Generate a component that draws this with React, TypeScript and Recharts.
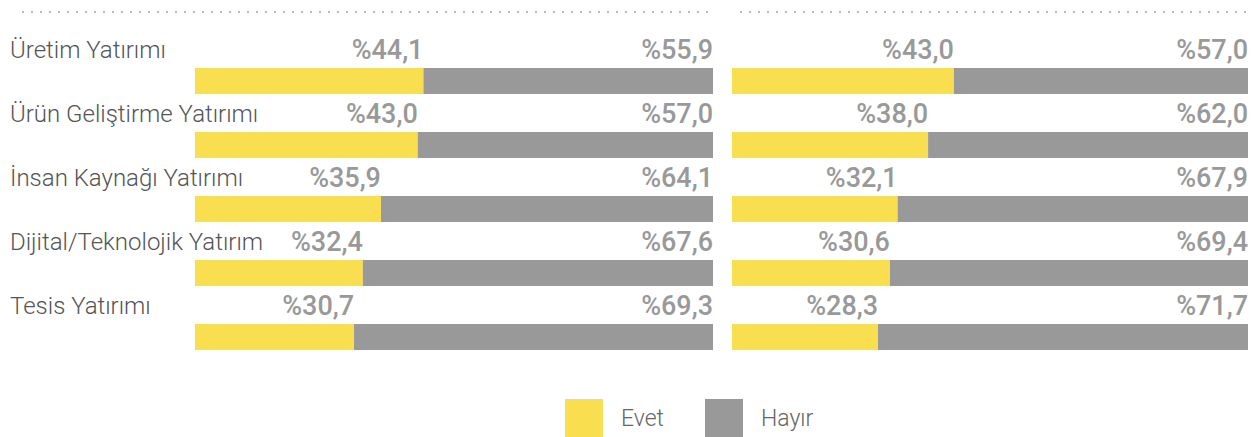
import { Bar, BarChart, LabelList, XAxis, YAxis } from "recharts";

const categories = [
  "Üretim Yatırımı",
  "Ürün Geliştirme Yatırımı",
  "İnsan Kaynağı Yatırımı",
  "Dijital/Teknolojik Yatırım",
  "Tesis Yatırımı",
];
const leftYes = [44.1, 43.0, 35.9, 32.4, 30.7];
const leftNo = [55.9, 57.0, 64.1, 67.6, 69.3];
const rightYes = [43.0, 38.0, 32.1, 30.6, 28.3];
const rightNo = [57.0, 62.0, 67.9, 69.4, 71.7];

const YELLOW = "#f9df50";
const GRAY = "#999999";
const FONT = "Roboto, sans-serif";
const LIGHT_FONT = "'Roboto Light', Roboto, sans-serif";
const MEDIUM_FONT = "'Roboto Medium', Roboto, sans-serif";

const fmt = (v: number) => "%" + v.toFixed(1).replace(".", ",");

function ValueLabel(props: any) {
  const { x, y, width, value } = props;
  return (
    <text
      x={Number(x) + Number(width)}
      y={Number(y) - 9}
      textAnchor="end"
      fontFamily={MEDIUM_FONT}
      fontWeight={500}
      fontSize={27}
      fill={GRAY}
    >
      {fmt(Number(value))}
    </text>
  );
}

function NameLabel(props: any) {
  const { y, value } = props;
  return (
    <text
      x={10}
      y={Number(y) - 10}
      textAnchor="start"
      fontFamily={LIGHT_FONT}
      fontWeight={300}
      fontSize={24}
      fill="#555555"
    >
      {value}
    </text>
  );
}

function Panel({
  yes,
  no,
  width,
  left,
  right,
  showNames,
}: {
  yes: number[];
  no: number[];
  width: number;
  left: number;
  right: number;
  showNames?: boolean;
}) {
  const data = categories.map((name, i) => ({ name, yes: yes[i], no: no[i] }));
  return (
    <BarChart
      width={width}
      height={380}
      data={data}
      layout="vertical"
      barSize={26}
      margin={{ top: 49, right, left, bottom: 11 }}
    >
      <XAxis type="number" domain={[0, 100]} hide />
      <YAxis type="category" dataKey="name" hide width={0} />
      <Bar dataKey="yes" stackId="a" fill={YELLOW} isAnimationActive={false}>
        <LabelList dataKey="yes" content={<ValueLabel />} />
        {showNames && <LabelList dataKey="name" content={<NameLabel />} />}
      </Bar>
      <Bar dataKey="no" stackId="a" fill={GRAY} isAnimationActive={false}>
        <LabelList dataKey="no" content={<ValueLabel />} />
      </Bar>
    </BarChart>
  );
}

function Dots({ x1, x2 }: { x1: number; x2: number }) {
  return (
    <line
      x1={x1}
      x2={x2}
      y1={12}
      y2={12}
      stroke="#bbbbbb"
      strokeWidth={2}
      strokeDasharray="2 7"
    />
  );
}

export default function App() {
  return (
    <div
      style={{
        position: "absolute",
        left: 0,
        top: 0,
        width: 1259,
        height: 437,
        background: "#fff",
        fontFamily: FONT,
      }}
    >
      <svg
        width={1259}
        height={20}
        style={{ position: "absolute", left: 0, top: 0 }}
      >
        <Dots x1={22} x2={713} />
        <Dots x1={740} x2={1249} />
      </svg>
      <div style={{ position: "absolute", left: 0, top: 0 }}>
        <Panel yes={leftYes} no={leftNo} width={720} left={195} right={7} showNames />
      </div>
      <div style={{ position: "absolute", left: 720, top: 0 }}>
        <Panel yes={rightYes} no={rightNo} width={539} left={12} right={11} />
      </div>
      <div
        style={{
          position: "absolute",
          left: 565,
          top: 399,
          display: "flex",
          alignItems: "center",
          fontSize: 23,
          fontWeight: 300,
          fontFamily: LIGHT_FONT,
          color: "#666666",
        }}
      >
        <span style={{ width: 38, height: 38, background: YELLOW, display: "inline-block" }} />
        <span style={{ marginLeft: 18, width: 84 }}>Evet</span>
        <span style={{ width: 38, height: 38, background: GRAY, display: "inline-block" }} />
        <span style={{ marginLeft: 18 }}>Hayır</span>
      </div>
    </div>
  );
}
